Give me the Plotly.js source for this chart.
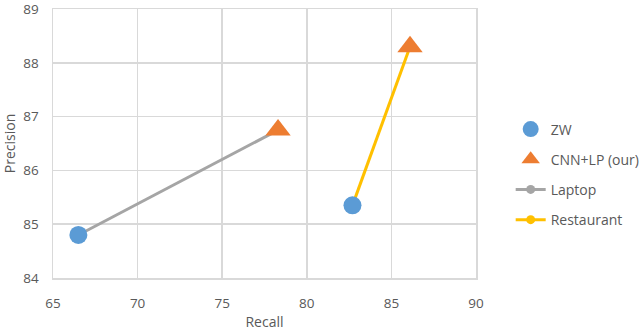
<!DOCTYPE html>
<html>
<head>
<meta charset="utf-8">
<script src="https://cdn.plot.ly/plotly-3.0.1.min.js"></script>
<style>html,body{margin:0;padding:0;background:#fff;}#chart{width:640px;height:331px;}</style>
</head>
<body>
<div id="chart"></div>
<script>
// Data (Recall, Precision)
const datasets = ["Laptop", "Restaurant"];
const zwRecall = [66.5, 82.7];
const zwPrecision = [84.8, 85.35];
const cnnRecall = [78.3, 86.1];
const cnnPrecision = [86.75, 88.3];
const xTicks = [65, 70, 75, 80, 85, 90];
const yTicks = [84, 85, 86, 87, 88, 89];

const font = {family: "Open Sans, Liberation Sans, sans-serif", size: 14, color: "#595959"};
const tickFont = {family: "Open Sans, Liberation Sans, sans-serif", size: 13.5, color: "#595959"};

const traces = [
  {
    name: "Laptop", x: [zwRecall[0], cnnRecall[0]], y: [zwPrecision[0], cnnPrecision[0]],
    mode: "lines+markers", line: {color: "#A5A5A5", width: 3},
    marker: {color: "#A5A5A5", size: 9}, legendrank: 3, legendgroup: "c"
  },
  {
    name: "Restaurant", x: [zwRecall[1], cnnRecall[1]], y: [zwPrecision[1], cnnPrecision[1]],
    mode: "lines+markers", line: {color: "#FFC000", width: 3},
    marker: {color: "#FFC000", size: 9}, legendrank: 4, legendgroup: "d"
  },
  {
    name: "ZW", x: zwRecall, y: zwPrecision, mode: "markers",
    marker: {color: "#5B9BD5", size: 18, symbol: "circle"}, legendrank: 1, legendgroup: "a"
  },
  {
    name: "CNN+LP (our)", x: cnnRecall, y: cnnPrecision, mode: "markers",
    marker: {color: "#ED7D31", size: 22, symbol: "triangle-up"}, legendrank: 2, legendgroup: "b"
  }
];

const layout = {
  width: 640, height: 331,
  margin: {l: 53, r: 164, t: 9, b: 53, autoexpand: false},
  paper_bgcolor: "#fff", plot_bgcolor: "#fff",
  font: font,
  showlegend: true,
  legend: {x: 1.082, y: 0.385, yanchor: "middle", xanchor: "left", font: font,
           tracegroupgap: 9, traceorder: "grouped", itemwidth: 30},
  xaxis: {
    range: [65, 90], tickvals: xTicks, ticktext: xTicks.map(String),
    showgrid: true, gridcolor: "#D9D9D9", gridwidth: 1.5,
    showline: true, linecolor: "#D9D9D9", linewidth: 1.5, mirror: true,
    zeroline: false, ticks: "", ticklabelstandoff: 12, tickfont: tickFont,
    ticklabeloverflow: "allow",
    title: {text: "Recall", font: font, standoff: 20}
  },
  yaxis: {
    range: [84, 89], tickvals: yTicks, ticktext: yTicks.map(String),
    showgrid: true, gridcolor: "#D9D9D9", gridwidth: 1.5,
    showline: true, linecolor: "#D9D9D9", linewidth: 1.5, mirror: true,
    zeroline: false, ticks: "", ticklabelstandoff: 10, tickfont: tickFont,
    ticklabeloverflow: "allow",
    title: {text: "Precision", font: font, standoff: 10}
  }
};

Plotly.newPlot("chart", traces, layout, {displayModeBar: false, staticPlot: true});
</script>
</body>
</html>
